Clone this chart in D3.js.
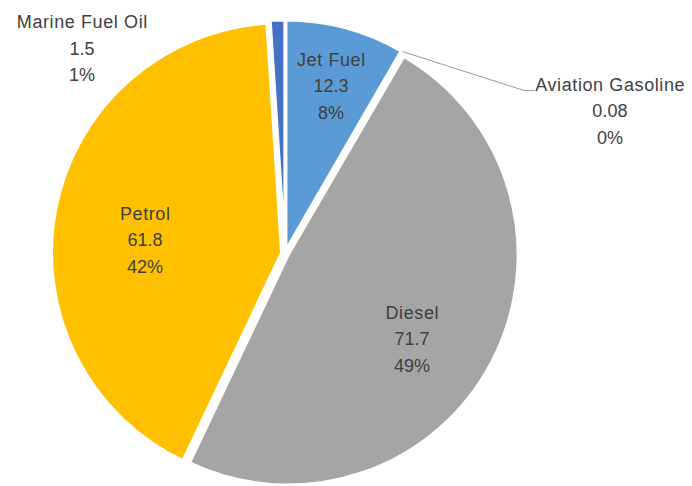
<!DOCTYPE html>
<html>
<head>
<meta charset="utf-8">
<script src="https://cdn.jsdelivr.net/npm/d3@7"></script>
<style>
  html, body { margin: 0; padding: 0; background: #ffffff; }
  svg { display: block; }
  text { font-family: "Liberation Sans", Arial, sans-serif; font-size: 18px; fill: #404040; }
</style>
</head>
<body>
<svg id="chart" width="692" height="486"></svg>
<script>
// Fuel consumption by type
const categories = ["Jet Fuel", "Aviation Gasoline", "Diesel", "Petrol", "Marine Fuel Oil"];
const values = [12.3, 0.08, 71.7, 61.8, 1.5];
const colors = ["#5B9BD5", "#ED7D31", "#A5A5A5", "#FFC000", "#4472C4"];

const width = 692, height = 486;
const cx = 285, cy = 253.4;       // pie centre
const R = 230;                    // pie radius
const explode = 3.5;              // distance each slice is pulled out
const borderWidth = 3;            // white border round each slice
const lineGap = 26.5;             // spacing between label lines

// Label placement: angle (degrees, clockwise from 12 o'clock) and distance
// from the slice's own centre, as a fraction of the radius.
const labelLayout = {
  "Jet Fuel":          { angle: 15.4,   k: 0.7395 },
  "Aviation Gasoline": { angle: 66.67,  k: 1.530 },
  "Diesel":            { angle: 124.14, k: 0.651 },
  "Petrol":            { angle: 275.31, k: 0.5965 },
  "Marine Fuel Oil":   { angle: 314.72, k: 1.2414 }
};

const total = d3.sum(values);
const pct = d3.format(".0%");
const rad = d => d * Math.PI / 180;

const svg = d3.select("#chart");
const g = svg.append("g").attr("transform", `translate(${cx},${cy})`);

const pie = d3.pie().sort(null).value(d => d).startAngle(0).endAngle(2 * Math.PI);
const arcs = pie(values).map((a, i) => {
  const mid = (a.startAngle + a.endAngle) / 2;
  const off = d3.pointRadial(mid, explode);
  return Object.assign(a, { index: i, name: categories[i], mid, off });
});

const arc = d3.arc().innerRadius(0).outerRadius(R);

// Slices
g.selectAll("path.slice")
  .data(arcs)
  .join("path")
  .attr("class", "slice")
  .attr("transform", d => `translate(${d.off[0]},${d.off[1]})`)
  .attr("d", arc)
  .attr("fill", d => colors[d.index])
  .attr("stroke", "#ffffff")
  .attr("stroke-width", borderWidth)
  .attr("stroke-linejoin", "miter");

// Labels: name, value, percentage
const labels = g.selectAll("g.label")
  .data(arcs)
  .join("g")
  .attr("class", "label")
  .attr("transform", d => {
    const L = labelLayout[d.name];
    const p = d3.pointRadial(rad(L.angle), L.k * R);
    return `translate(${d.off[0] + p[0]},${d.off[1] + p[1]})`;
  });

labels.each(function (d) {
  const sel = d3.select(this);
  const lines = [d.name, String(values[d.index]), pct(values[d.index] / total)];
  lines.forEach((t, j) => {
    sel.append("text")
      .attr("text-anchor", "middle")
      .attr("x", j === 0 ? 0.3 : 0)
      .attr("y", (j - 1) * lineGap + 6)
      .style("letter-spacing", j === 0 ? "0.6px" : "0px")
      .text(t);
  });
});

// Leader line for the tiny Aviation Gasoline slice
const av = arcs.find(d => d.name === "Aviation Gasoline");
{
  const L = labelLayout[av.name];
  const lp = d3.pointRadial(rad(L.angle), L.k * R);
  const lx = av.off[0] + lp[0], ly = av.off[1] + lp[1];
  const node = labels.filter(d => d.name === av.name).select("text").node();
  const bb = node.getBBox();
  const start = d3.pointRadial(av.mid, R);
  const elbowY = ly - lineGap + 6;
  const endX = lx + bb.x - 1;
  const pts = [
    [av.off[0] + start[0], av.off[1] + start[1]],
    [endX - 10, elbowY],
    [endX, elbowY]
  ];
  g.append("path")
    .attr("d", d3.line()(pts))
    .attr("fill", "none")
    .attr("stroke", "#9a9a9a")
    .attr("stroke-width", 1);
}
</script>
</body>
</html>
